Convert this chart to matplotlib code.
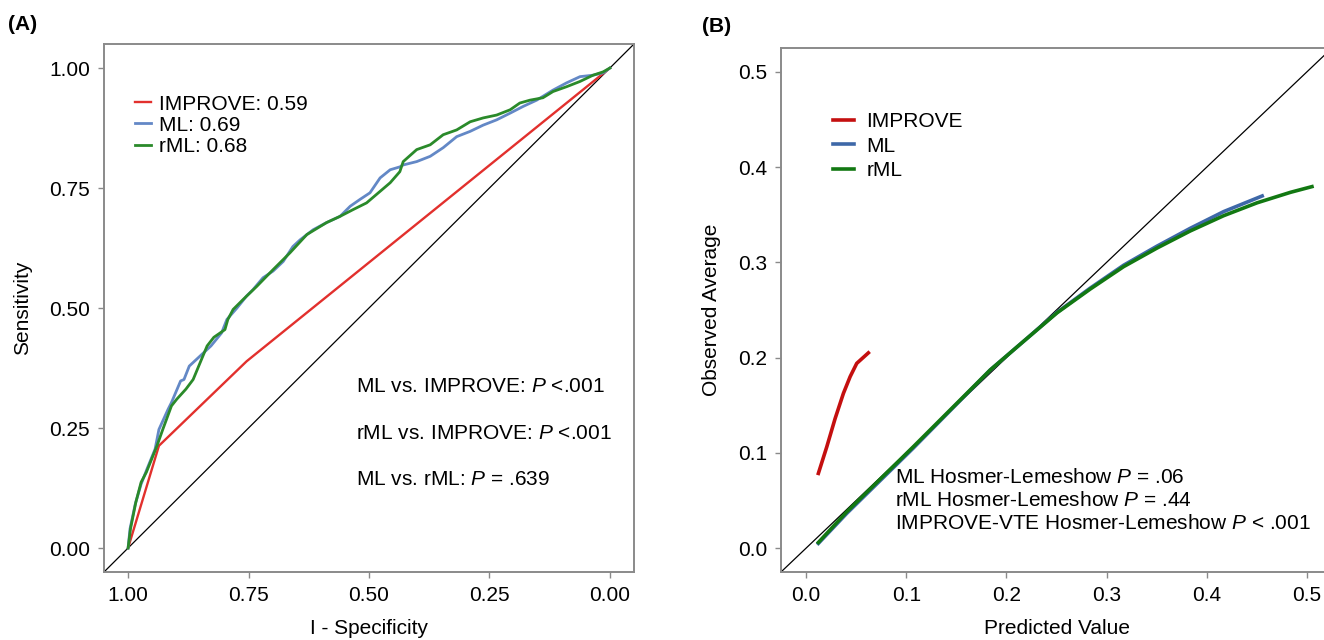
import matplotlib
matplotlib.use("Agg")
import matplotlib.pyplot as plt

plt.rcParams['font.family'] = ['Liberation Sans', 'DejaVu Sans']
plt.rcParams['mathtext.fontset'] = 'custom'
plt.rcParams['mathtext.rm'] = 'Liberation Sans'
plt.rcParams['mathtext.it'] = 'Liberation Sans:italic'

# ---------------- Panel A: ROC data (specificity, sensitivity) ----------------
improve_spec = [1.0, 0.936, 0.754, 0.0]
improve_sens = [0.0, 0.213, 0.389, 1.0]

ml_spec = [1.0, 0.996, 0.985, 0.973, 0.961, 0.944, 0.936, 0.917, 0.910, 0.891, 0.884,
           0.873, 0.843, 0.828, 0.806, 0.795, 0.774, 0.754, 0.741, 0.720, 0.699, 0.678,
           0.658, 0.643, 0.616, 0.588, 0.560, 0.539, 0.519, 0.498, 0.477, 0.456, 0.436,
           0.429, 0.401, 0.373, 0.346, 0.318, 0.290, 0.263, 0.235, 0.207, 0.180, 0.152,
           0.118, 0.090, 0.062, 0.035, 0.014, 0.0]
ml_sens = [0.0, 0.040, 0.092, 0.133, 0.164, 0.206, 0.247, 0.289, 0.303, 0.348, 0.351,
           0.379, 0.407, 0.421, 0.448, 0.476, 0.500, 0.525, 0.538, 0.563, 0.577, 0.597,
           0.628, 0.642, 0.663, 0.678, 0.691, 0.712, 0.726, 0.740, 0.771, 0.788, 0.794,
           0.798, 0.805, 0.816, 0.834, 0.857, 0.868, 0.881, 0.892, 0.906, 0.920, 0.933,
           0.954, 0.969, 0.982, 0.985, 0.990, 1.0]

rml_spec = [1.0, 0.995, 0.984, 0.973, 0.962, 0.940, 0.928, 0.910, 0.899, 0.880, 0.865,
            0.836, 0.822, 0.799, 0.793, 0.782, 0.761, 0.733, 0.699, 0.664, 0.629, 0.588,
            0.560, 0.533, 0.505, 0.477, 0.456, 0.436, 0.429, 0.401, 0.373, 0.346, 0.318,
            0.290, 0.263, 0.235, 0.207, 0.187, 0.166, 0.139, 0.118, 0.090, 0.062, 0.035,
            0.014, 0.0]
rml_sens = [0.0, 0.040, 0.095, 0.137, 0.158, 0.213, 0.247, 0.296, 0.310, 0.331, 0.351,
            0.421, 0.439, 0.455, 0.476, 0.497, 0.518, 0.545, 0.580, 0.615, 0.653, 0.678,
            0.691, 0.705, 0.719, 0.743, 0.761, 0.784, 0.805, 0.830, 0.840, 0.861, 0.871,
            0.888, 0.896, 0.902, 0.913, 0.927, 0.933, 0.938, 0.951, 0.961, 0.972, 0.985,
            0.992, 1.0]

roc_labels = ["IMPROVE: 0.59", "ML: 0.69", "rML: 0.68"]
roc_ticks = [1.00, 0.75, 0.50, 0.25, 0.00]
roc_ticklabels = ["1.00", "0.75", "0.50", "0.25", "0.00"]
roc_notes = ["ML vs. IMPROVE: $P$ <.001", "rML vs. IMPROVE: $P$ <.001", "ML vs. rML: $P$ = .639"]

# ---------------- Panel B: calibration data ----------------
cal_improve_x = [0.0123, 0.0207, 0.0290, 0.0373, 0.0440, 0.0506, 0.0622]
cal_improve_y = [0.0785, 0.1064, 0.1360, 0.1625, 0.1800, 0.1940, 0.2050]

cal_ml_x = [0.0123, 0.0406, 0.107, 0.1838, 0.217, 0.2505, 0.2837, 0.3170, 0.3503, 0.3836,
            0.4169, 0.4553]
cal_ml_y = [0.0050, 0.0365, 0.1050, 0.1870, 0.2170, 0.2475, 0.2730, 0.2970, 0.3170, 0.3358,
            0.3533, 0.3697]

cal_rml_x = [0.0123, 0.0406, 0.107, 0.1838, 0.217, 0.2505, 0.2837, 0.3170, 0.3503,
             0.3836, 0.4169, 0.4502, 0.4835, 0.505]
cal_rml_y = [0.0060, 0.0381, 0.1064, 0.1870, 0.2170, 0.2470, 0.2720, 0.2955, 0.3150,
             0.3330, 0.3490, 0.3625, 0.3735, 0.3795]

cal_labels = ["IMPROVE", "ML", "rML"]
cal_ticks = [0.0, 0.1, 0.2, 0.3, 0.4, 0.5]
cal_notes = ["ML Hosmer-Lemeshow $P$ = .06", "rML Hosmer-Lemeshow $P$ = .44",
             "IMPROVE-VTE Hosmer-Lemeshow $P$ < .001"]

# ---------------- Figure ----------------
W, H = 1324, 640
fig = plt.figure(figsize=(W / 100, H / 100), dpi=100)

spine_col = '#8a8a8a'
fs = 15

axA = fig.add_axes([104 / W, 68 / H, 530 / W, 528 / H])
axB = fig.add_axes([781 / W, 68 / H, 551 / W, 524 / H])

for ax in (axA, axB):
    for s in ax.spines.values():
        s.set_color(spine_col)
        s.set_linewidth(1.4)
    ax.tick_params(axis='both', colors=spine_col, labelcolor='black', labelsize=fs,
                   length=4, width=1.0, pad=6)

# Panel A
axA.axline((1, 0), (0, 1), color='black', lw=0.9, zorder=1)
axA.plot(improve_spec, improve_sens, color='#E2302D', lw=1.7, label=roc_labels[0], zorder=2)
axA.plot(ml_spec, ml_sens, color='#6388C6', lw=2.0, label=roc_labels[1], zorder=3)
axA.plot(rml_spec, rml_sens, color='#2A8A2A', lw=2.0, label=roc_labels[2], zorder=4)
axA.set_xlim(1.05, -0.05)
axA.set_ylim(-0.05, 1.05)
axA.set_xticks(roc_ticks)
axA.set_xticklabels(roc_ticklabels)
axA.set_yticks(roc_ticks)
axA.set_yticklabels(roc_ticklabels)
axA.set_xlabel("I - Specificity", fontsize=fs, labelpad=10)
axA.set_ylabel("Sensitivity", fontsize=fs, labelpad=12)
legA = axA.legend(loc='upper left', bbox_to_anchor=(0.058, 0.904), frameon=False,
                  fontsize=fs, handlelength=0.8, handletextpad=0.37, labelspacing=0.1,
                  borderpad=0, borderaxespad=0)
for i, note in enumerate(roc_notes):
    axA.text(0.4755, [0.352, 0.262, 0.175][i], note, transform=axA.transAxes,
             fontsize=fs, va='center', ha='left')

# Panel B
axB.axline((0, 0), slope=1, color='black', lw=0.9, zorder=1)
axB.plot(cal_improve_x, cal_improve_y, color='#C40F0F', lw=2.6, label=cal_labels[0], zorder=2)
axB.plot(cal_ml_x, cal_ml_y, color='#3E68A8', lw=2.6, label=cal_labels[1], zorder=3)
axB.plot(cal_rml_x, cal_rml_y, color='#127812', lw=2.6, label=cal_labels[2], zorder=4)
axB.set_xlim(-0.025, 0.525)
axB.set_ylim(-0.025, 0.525)
axB.set_xticks(cal_ticks)
axB.set_xticklabels([f"{t:.1f}" for t in cal_ticks])
axB.set_yticks(cal_ticks)
axB.set_yticklabels([f"{t:.1f}" for t in cal_ticks])
axB.set_xlabel("Predicted Value", fontsize=fs, labelpad=10)
axB.set_ylabel("Observed Average", fontsize=fs, labelpad=12)
legB = axB.legend(loc='upper left', bbox_to_anchor=(0.0944, 0.877), frameon=False,
                  fontsize=fs, handlelength=1.0, handletextpad=0.6, labelspacing=0.25,
                  borderpad=0, borderaxespad=0)
for i, note in enumerate(cal_notes):
    axB.text(0.0889, [0.0746, 0.0504, 0.0263][i], note, fontsize=fs, va='center', ha='left')

fig.text(8 / W, 1 - 25 / H, "(A)", fontsize=fs, fontweight='bold', va='center', ha='left')
fig.text(702 / W, 1 - 26 / H, "(B)", fontsize=fs, fontweight='bold', va='center', ha='left')

fig.savefig("out.png", dpi=100)
